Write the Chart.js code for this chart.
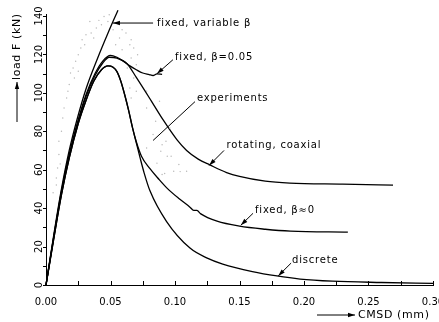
<!DOCTYPE html>
<html>
<head>
<meta charset="utf-8">
<script src="https://cdn.jsdelivr.net/npm/chart.js@4.4.0/dist/chart.umd.min.js"></script>
<style>
  html, body { margin: 0; padding: 0; background: #fff; }
  #wrap { width: 439px; height: 322px; }
</style>
</head>
<body>
<div id="wrap"><canvas id="MyChart"></canvas></div>
<script>
// CMSD (mm) vs load F (kN)
const variableBetaX = [0, 0.006, 0.012, 0.018, 0.024, 0.031, 0.040, 0.048, 0.0558];
const variableBetaY = [0, 26, 50, 70, 86, 102, 118, 131, 143];

const beta005X = [0, 0.006, 0.012, 0.018, 0.025, 0.031, 0.038, 0.044, 0.050, 0.055, 0.060, 0.065, 0.070, 0.075, 0.080, 0.083, 0.086, 0.090];
const beta005Y = [0, 25, 49, 68, 86, 99, 110, 116.5, 119.5, 118.5, 116.5, 114, 112, 110.3, 109.5, 109, 109.8, 109.6];

const rotatingX = [0, 0.006, 0.012, 0.018, 0.025, 0.031, 0.038, 0.044, 0.049, 0.055, 0.063, 0.070, 0.080, 0.0907, 0.1016, 0.109, 0.118, 0.127, 0.140, 0.150, 0.170, 0.189, 0.230, 0.269];
const rotatingY = [0, 25, 48, 67, 85, 98, 109, 115.5, 118.5, 118, 115, 108, 97.5, 86, 75.5, 70, 65.5, 62.5, 58.5, 56.5, 54, 53, 52.5, 52];

const beta0X = [0, 0.006, 0.012, 0.018, 0.025, 0.031, 0.037, 0.043, 0.048, 0.052, 0.055, 0.058, 0.061, 0.064, 0.067, 0.070, 0.074, 0.0806, 0.0875, 0.0938, 0.103, 0.1116, 0.1145, 0.117, 0.120, 0.1326, 0.150, 0.170, 0.1895, 0.234];
const beta0Y = [0, 24, 47, 66, 84, 96, 106, 112, 114, 113.3, 111, 106, 99, 91, 82, 74.5, 67, 60.5, 55, 50.4, 45, 40.5, 38.8, 38.8, 37, 33.2, 30.6, 29, 28, 27.5];

const discreteX = [0, 0.006, 0.012, 0.018, 0.025, 0.031, 0.037, 0.043, 0.048, 0.052, 0.055, 0.058, 0.061, 0.064, 0.067, 0.070, 0.073, 0.076, 0.0806, 0.0935, 0.1116, 0.125, 0.137, 0.160, 0.179, 0.197, 0.222, 0.260, 0.300];
const discreteY = [0, 24, 47, 66, 84, 96, 106, 112, 114, 113.3, 111, 106, 99, 91, 82, 74, 66, 58.5, 49, 33, 19.2, 14, 10.9, 7, 4.7, 3.1, 2, 1.3, 0.8];

// experiment dots (stippled cloud)
const expX = [0.053, 0.049, 0.045, 0.048, 0.043, 0.039, 0.035, 0.031, 0.028, 0.037, 0.052, 0.059, 0.062, 0.057, 0.066, 0.065, 0.068, 0.059, 0.054, 0.027,
  0.025, 0.023, 0.021, 0.019, 0.022, 0.018, 0.017, 0.016, 0.014, 0.013, 0.012, 0.010, 0.010, 0.009, 0.008, 0.025, 0.066, 0.071, 0.070, 0.063,
  0.068, 0.065, 0.066, 0.070, 0.078, 0.078, 0.088, 0.085, 0.096, 0.083, 0.093, 0.089, 0.097, 0.103, 0.099, 0.090, 0.109, 0.078, 0.034, 0.041,
  0.030, 0.090, 0.094, 0.086, 0.092, 0.104, 0.011, 0.0055, 0.008];
const expY = [142.3, 140.6, 139.7, 137.1, 135.4, 133.7, 131.1, 130.2, 127.6, 128.5, 132.8, 132.8, 131.1, 128.5, 127.6, 125, 123.3, 122.4, 125, 123.3,
  119.8, 116.4, 112.9, 110.3, 107.7, 104.3, 100.8, 97.3, 92.1, 86.9, 80, 74.8, 67.9, 60.9, 55.7, 111.2, 118.1, 119.8, 114.6, 112.9,
  107.7, 102.5, 97.3, 100.8, 100.8, 92.1, 95.6, 85.2, 81.7, 78.3, 74.8, 69.6, 67, 62.7, 59.2, 57.5, 59.2, 71.3, 137.1, 137.7,
  125, 73, 67, 63.4, 58, 59, 63, 48, 52];

const xTickLabels = ['0.00', '0.05', '0.10', '0.15', '0.20', '0.25', '0.30'];
const yTickValues = [0, 20, 40, 60, 80, 100, 120, 140];
const yTickLabels = ['0', '20', '40', '60', '80', '100', '120', '140'];

const pts = (xs, ys) => xs.map((x, i) => ({ x, y: ys[i] }));

// curve labels, placed in data units
const notes = [
    { text: 'fixed, variable \u03b2', at: [0.086, 136.3], from: [0.083, 136.3], to: [0.0519, 136.3], head: true },
    { text: 'fixed, \u03b2=0.05', at: [0.100, 118.2], from: [0.0984, 117.2], to: [0.086, 109.9], head: true },
    { text: 'experiments', at: [0.117, 96.9], from: [0.1155, 95.4], to: [0.083, 75.2], head: false },
    { text: 'rotating, coaxial', at: [0.140, 72.6], from: [0.138, 70], to: [0.1264, 62.2], head: true },
    { text: 'fixed, \u03b2\u22480', at: [0.162, 38.9], from: [0.1605, 37.3], to: [0.151, 31.1], head: true },
    { text: 'discrete', at: [0.1907, 13], from: [0.190, 11.4], to: [0.180, 4.7], head: true }
];

const FONT = '10px "DejaVu Sans"';

const arrow = (ctx, x1, y1, x2, y2, head) => {
    ctx.beginPath();
    ctx.moveTo(x1, y1);
    ctx.lineTo(x2, y2);
    ctx.stroke();
    if (!head) return;
    const a = Math.atan2(y2 - y1, x2 - x1);
    ctx.beginPath();
    ctx.moveTo(x2, y2);
    ctx.lineTo(x2 - 7 * Math.cos(a) + 2.2 * Math.sin(a), y2 - 7 * Math.sin(a) - 2.2 * Math.cos(a));
    ctx.lineTo(x2 - 7 * Math.cos(a) - 2.2 * Math.sin(a), y2 - 7 * Math.sin(a) + 2.2 * Math.cos(a));
    ctx.closePath();
    ctx.fill();
}

const overlay = {
    id: 'overlay',
    afterDraw(chart) {
        const { ctx, scales: { x, y }, chartArea } = chart;
        ctx.save();
        ctx.strokeStyle = '#000';
        ctx.fillStyle = '#000';
        ctx.lineWidth = 1;
        ctx.font = FONT;

        // x ticks point inward
        x.ticks.forEach(t => {
            const px = Math.round(x.getPixelForValue(t.value)) + 0.5;
            ctx.beginPath();
            ctx.moveTo(px, chartArea.bottom);
            ctx.lineTo(px, chartArea.bottom - 4);
            ctx.stroke();
        });
        // y ticks point outward
        y.ticks.forEach(t => {
            const py = Math.round(y.getPixelForValue(t.value)) + 0.5;
            ctx.beginPath();
            ctx.moveTo(chartArea.left, py);
            ctx.lineTo(chartArea.left - 3, py);
            ctx.stroke();
        });
        // rotated y labels
        ctx.textAlign = 'center';
        ctx.textBaseline = 'middle';
        yTickLabels.forEach((lab, i) => {
            ctx.save();
            ctx.translate(chartArea.left - 7, y.getPixelForValue(yTickValues[i]));
            ctx.rotate(-Math.PI / 2);
            ctx.fillText(lab, 0, 0);
            ctx.restore();
        });

        // axis titles with arrows
        ctx.save();
        ctx.translate(17, 0);
        ctx.rotate(-Math.PI / 2);
        ctx.font = '11px "DejaVu Sans"';
        ctx.letterSpacing = '0.6px';
        ctx.textAlign = 'left';
        arrow(ctx, -122, 0, -82, 0, true);
        ctx.fillText('load F (kN)', -80, 0);
        ctx.restore();

        ctx.font = '11px "DejaVu Sans"';
        ctx.letterSpacing = '0.6px';
        ctx.textAlign = 'left';
        arrow(ctx, 317, 315, 355, 315, true);
        ctx.fillText('CMSD (mm)', 358, 315);

        // curve labels
        ctx.font = FONT;
        ctx.letterSpacing = '0.8px';
        notes.forEach(n => {
            arrow(ctx, x.getPixelForValue(n.from[0]), y.getPixelForValue(n.from[1]),
                x.getPixelForValue(n.to[0]), y.getPixelForValue(n.to[1]), n.head);
            ctx.fillText(n.text, x.getPixelForValue(n.at[0]), y.getPixelForValue(n.at[1]));
        });
        ctx.restore();
    }
};

const line = (data) => ({
    data,
    showLine: true,
    borderColor: '#000',
    borderWidth: 1.3,
    pointRadius: 0,
    cubicInterpolationMode: 'monotone',
    clip: false
});

new Chart(document.getElementById('MyChart'), {
    type: 'scatter',
    data: {
        datasets: [
            {
                data: pts(expX, expY),
                pointRadius: 0.7,
                pointBorderWidth: 0,
                pointBackgroundColor: '#b8b8b8',
                showLine: false
            },
            line(pts(variableBetaX, variableBetaY)),
            line(pts(beta005X, beta005Y)),
            line(pts(rotatingX, rotatingY)),
            line(pts(beta0X, beta0Y)),
            line(pts(discreteX, discreteY))
        ]
    },
    options: {
        responsive: true,
        maintainAspectRatio: false,
        animation: false,
        events: [],
        layout: { padding: { top: 14, right: 6, left: 0, bottom: 0 } },
        plugins: { legend: { display: false }, tooltip: { enabled: false } },
        scales: {
            x: {
                type: 'linear',
                min: 0,
                max: 0.3,
                grid: { display: false },
                border: { display: true, color: '#000', width: 1 },
                ticks: {
                    stepSize: 0.025,
                    autoSkip: false,
                    maxRotation: 0,
                    padding: 3,
                    color: '#000',
                    font: { family: 'DejaVu Sans', size: 10 },
                    callback: (v, i) => (i % 2 === 0 ? xTickLabels[i / 2] : '')
                },
                afterFit: (s) => { s.height = 37; s.paddingLeft = 0; s.paddingRight = 0; }
            },
            y: {
                type: 'linear',
                min: 0,
                max: 141,
                grid: { display: false },
                border: { display: true, color: '#000', width: 1 },
                ticks: { stepSize: 10, includeBounds: false, display: false },
                afterFit: (s) => { s.width = 46; s.paddingTop = 0; s.paddingBottom = 0; }
            }
        }
    },
    plugins: [overlay]
});
</script>
</body>
</html>
